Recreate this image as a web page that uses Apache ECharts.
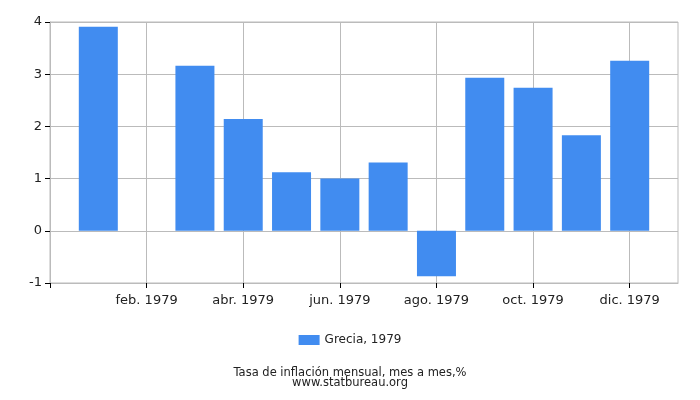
<!DOCTYPE html>
<html>
<head>
<meta charset="utf-8">
<script src="https://cdn.jsdelivr.net/npm/echarts@6/dist/echarts.min.js"></script>
<style>
html,body{margin:0;padding:0;background:#fff;}
#chart{width:700px;height:400px;}
</style>
</head>
<body>
<div id="chart"></div>
<script>
// meses (posición 1..12 en el eje)
var months = [1, 2, 3, 4, 5, 6, 7, 8, 9, 10, 11, 12];
var values = [3.91, null, 3.16, 2.14, 1.12, 1.0, 1.31, -0.87, 2.93, 2.74, 1.83, 3.26];
var tickPos = [0, 2, 4, 6, 8, 10, 12];
var tickLabels = {2: 'feb. 1979', 4: 'abr. 1979', 6: 'jun. 1979', 8: 'ago. 1979', 10: 'oct. 1979', 12: 'dic. 1979'};
var seriesName = 'Grecia, 1979';

var barData = [];
months.forEach(function(m, i){
	barData.push([m, values[i]]);
});

var myChart = echarts.init(document.getElementById('chart'));
var option = {
	animation: false,
	textStyle: {fontFamily: 'DejaVu Sans'},
	grid: {left: 50, right: 22, top: 22, bottom: 117, show: true, borderColor: '#bbb', borderWidth: 1},
	legend: {
		bottom: 49,
		left: 'center',
		icon: 'rect',
		itemWidth: 21,
		itemHeight: 10,
		itemGap: 5,
		textStyle: {fontSize: 12, color: '#222', fontFamily: 'DejaVu Sans'},
		data: [seriesName]
	},
	title: {
		text: 'Tasa de inflación mensual, mes a mes,%\nwww.statbureau.org',
		left: 'center',
		bottom: 5,
		textStyle: {fontSize: 11.5, fontWeight: 'normal', color: '#222', lineHeight: 10, fontFamily: 'DejaVu Sans'}
	},
	xAxis: {
		type: 'value',
		min: 0,
		max: 13,
		interval: 2,
		axisLine: {show: true, onZero: false, lineStyle: {color: '#bbb'}},
		axisTick: {show: true, length: 5, customValues: tickPos, lineStyle: {color: '#000'}},
		splitLine: {show: true, lineStyle: {color: '#bbb'}},
		axisLabel: {
			color: '#222',
			fontSize: 13,
			margin: 11,
			customValues: tickPos,
			formatter: function(v){ return tickLabels[v] || ''; }
		}
	},
	yAxis: {
		type: 'value',
		min: -1,
		max: 4,
		interval: 1,
		axisLine: {show: true, lineStyle: {color: '#bbb'}},
		axisTick: {show: true, length: 5, lineStyle: {color: '#000'}},
		splitLine: {show: true, lineStyle: {color: '#bbb'}},
		axisLabel: {color: '#222', fontSize: 13, margin: 8}
	},
	series: [{
		name: seriesName,
		type: 'bar',
		barWidth: 39,
		itemStyle: {color: '#418cf0'},
		data: barData
	}]
};
myChart.setOption(option);
</script>
</body>
</html>
